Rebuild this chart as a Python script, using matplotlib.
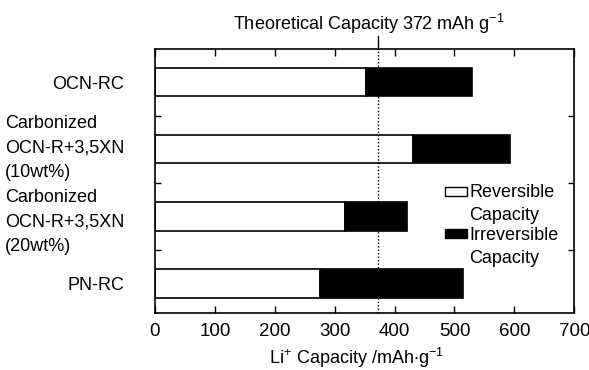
import numpy as np
import matplotlib
matplotlib.use("Agg")
import matplotlib.pyplot as plt
import matplotlib.transforms as mtransforms
from matplotlib.patches import Rectangle

plt.rcParams['font.family'] = ['Liberation Sans', 'DejaVu Sans']
plt.rcParams['mathtext.fontset'] = 'custom'
plt.rcParams['mathtext.rm'] = 'Liberation Sans'
plt.rcParams['mathtext.default'] = 'regular'

samples = ["OCN-RC",
           "Carbonized\nOCN-R+3,5XN\n(10wt%)",
           "Carbonized\nOCN-R+3,5XN\n(20wt%)",
           "PN-RC"]
reversible = [353, 430, 318, 275]
total = [529, 592, 420, 515]
irreversible = [t - r for t, r in zip(total, reversible)]
theoretical = 372
xticks = [0, 100, 200, 300, 400, 500, 600, 700]

fig = plt.figure(figsize=(5.89, 3.70), dpi=100)
ax = fig.add_axes([0.263, 0.154, 0.712, 0.714])

y = np.arange(len(samples))
h = 0.42
ax.barh(y, reversible, height=h, color='white', edgecolor='black', linewidth=1.2)
ax.barh(y, irreversible, left=reversible, height=h, color='black', edgecolor='black', linewidth=1.2)

# theoretical capacity marker
ax.axvline(theoretical, color='black', linestyle=(0, (1, 1.5)), linewidth=1.0)
ax.plot([theoretical, theoretical], [1.0, 1.05], transform=ax.get_xaxis_transform(),
        color='black', linewidth=1.0, clip_on=False)
ax.text(theoretical - 15, 1.072, "Theoretical Capacity 372 mAh g$^{-1}$",
        transform=ax.get_xaxis_transform(), ha='center', va='baseline', fontsize=13)

ax.set_xlim(0, 700)
ax.set_ylim(3.44, -0.5)
ax.set_xticks(xticks)
ax.set_xticklabels([str(v) for v in xticks], fontsize=13.5)
ax.tick_params(axis='x', direction='in', top=True, length=5, width=1, pad=7)
ax.set_yticks(y)
ax.set_yticklabels(samples, fontsize=13, multialignment='left', linespacing=1.55)
ax.set_yticks(y[:-1] + 0.5, minor=True)
ax.tick_params(axis='y', which='major', length=0, pad=22)
ax.tick_params(axis='y', which='minor', direction='in', right=True, length=4, width=1)
for s in ax.spines.values():
    s.set_linewidth(1.2)

# nudge the first multi-line label up a little
lab = ax.get_yticklabels()[1]
lab.set_transform(lab.get_transform() + mtransforms.ScaledTranslation(0, 5 / 72, fig.dpi_scale_trans))

ax.set_xlabel("Li$^{+}$ Capacity /mAh$\\cdot$g$^{-1}$", fontsize=13)
ax.xaxis.set_label_coords(0.48, -0.125)

# legend
ax.add_patch(Rectangle((0.692, 0.443), 0.053, 0.034, transform=ax.transAxes,
                       facecolor='white', edgecolor='black', linewidth=1.0))
ax.add_patch(Rectangle((0.692, 0.284), 0.053, 0.034, transform=ax.transAxes,
                       facecolor='black', edgecolor='black', linewidth=1.0))
ax.text(0.749, 0.488, "Reversible\nCapacity", transform=ax.transAxes, va='top', ha='left',
        fontsize=13, linespacing=1.45)
ax.text(0.749, 0.325, "Irreversible\nCapacity", transform=ax.transAxes, va='top', ha='left',
        fontsize=13, linespacing=1.45)

fig.savefig("out.png", dpi=100)
